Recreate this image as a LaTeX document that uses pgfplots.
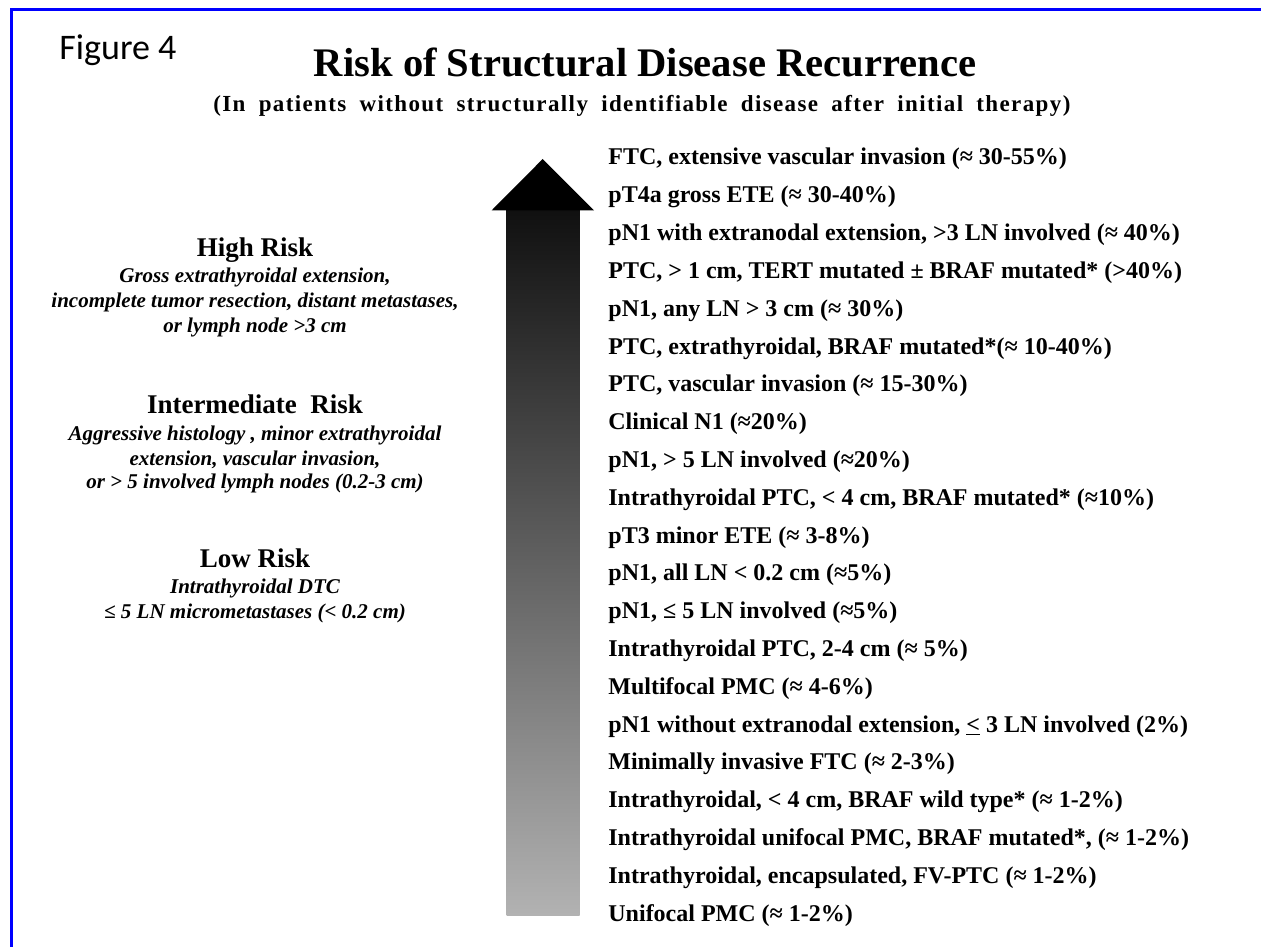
\documentclass[border=0pt]{standalone}
\usepackage{fontspec}
\setmainfont{Liberation Serif}
\newfontfamily\calfont{Carlito}
\usepackage{pgfplots}
\pgfplotsset{compat=1.18}
\definecolor{bord}{RGB}{0,0,255}
\definecolor{shaftbot}{RGB}{178,178,178}
\definecolor{shafttop}{RGB}{16,16,16}
\newcommand{\rowfont}{\fontsize{12pt}{14pt}\selectfont\bfseries}
\newcommand{\riskfont}{\fontsize{13.5pt}{16pt}\selectfont\bfseries}
\newcommand{\descfont}{\fontsize{10.5pt}{12pt}\selectfont\bfseries\itshape}
\begin{document}
\begin{tikzpicture}
\begin{axis}[
  width=630.5pt, height=473pt, scale only axis,
  xmin=0, xmax=1261, ymin=0, ymax=946, y dir=reverse,
  hide axis, clip=true,
]
% frame corners and blue border
\addplot[draw=none] coordinates {(0,0) (1261,946)};
\addplot[bord, line width=1.6pt] coordinates {(11.5,950) (11.5,9.5) (1265,9.5)};
% arrow
\addplot[draw=none, top color=shafttop, bottom color=shaftbot] coordinates {(506.5,209) (579.5,209) (579.5,915) (506.5,915)} -- cycle;
\addplot[fill=black, draw=none] coordinates {(491.5,210.5) (542.7,159) (594,210.5)} -- cycle;

% headings
\node[anchor=base west, inner sep=0] at (axis cs:59,60) {\calfont\fontsize{18pt}{20pt}\selectfont Figure 4};
\node[anchor=base, inner sep=0] at (axis cs:645,77) {\fontsize{20.3pt}{24pt}\selectfont\bfseries Risk of Structural Disease Recurrence};
\node[anchor=base west, inner sep=0] at (axis cs:213,112) {\fontsize{11.5pt}{13pt}\selectfont\bfseries\makebox[428.5pt][s]{\addfontfeature{LetterSpace=6}(In patients without structurally identifiable disease after initial therapy)}};

% left column
\node[anchor=base, inner sep=0] at (axis cs:255,257) {\riskfont High Risk};
\node[anchor=base, inner sep=0] at (axis cs:255,283) {\descfont Gross extrathyroidal extension,};
\node[anchor=base, inner sep=0] at (axis cs:255,307) {\descfont incomplete tumor resection, distant metastases,};
\node[anchor=base, inner sep=0] at (axis cs:255,332) {\descfont or lymph node >3 cm};
\node[anchor=base, inner sep=0] at (axis cs:255,413) {\riskfont Intermediate\ \ Risk};
\node[anchor=base, inner sep=0] at (axis cs:255,440) {\descfont Aggressive histology , minor extrathyroidal};
\node[anchor=base, inner sep=0] at (axis cs:255,465) {\descfont extension, vascular invasion,};
\node[anchor=base, inner sep=0] at (axis cs:255,488) {\descfont or > 5 involved lymph nodes (0.2-3 cm)};
\node[anchor=base, inner sep=0] at (axis cs:255,567) {\riskfont Low Risk};
\node[anchor=base, inner sep=0] at (axis cs:255,593) {\descfont Intrathyroidal DTC};
\node[anchor=base, inner sep=0] at (axis cs:255,618) {\descfont ≤ 5 LN micrometastases (< 0.2 cm)};

% right column rows (baselines 165 + 37.8 i)
\node[anchor=base west, inner sep=0] at (axis cs:608,165.0) {\rowfont FTC, extensive vascular invasion (≈ 30-55\%)};
\node[anchor=base west, inner sep=0] at (axis cs:608,202.8) {\rowfont pT4a gross ETE (≈ 30-40\%)};
\node[anchor=base west, inner sep=0] at (axis cs:608,240.6) {\rowfont pN1 with extranodal extension, >3 LN involved (≈ 40\%)};
\node[anchor=base west, inner sep=0] at (axis cs:608,278.4) {\rowfont PTC, > 1 cm, TERT mutated ± BRAF mutated* (>40\%)};
\node[anchor=base west, inner sep=0] at (axis cs:608,316.2) {\rowfont pN1, any LN > 3 cm (≈ 30\%)};
\node[anchor=base west, inner sep=0] at (axis cs:608,354.0) {\rowfont PTC, extrathyroidal, BRAF mutated*(≈ 10-40\%)};
\node[anchor=base west, inner sep=0] at (axis cs:608,391.8) {\rowfont PTC, vascular invasion (≈ 15-30\%)};
\node[anchor=base west, inner sep=0] at (axis cs:608,429.6) {\rowfont Clinical N1 (≈20\%)};
\node[anchor=base west, inner sep=0] at (axis cs:608,467.4) {\rowfont pN1, > 5 LN involved (≈20\%)};
\node[anchor=base west, inner sep=0] at (axis cs:608,505.2) {\rowfont Intrathyroidal PTC, < 4 cm, BRAF mutated* (≈10\%)};
\node[anchor=base west, inner sep=0] at (axis cs:608,543.0) {\rowfont pT3 minor ETE (≈ 3-8\%)};
\node[anchor=base west, inner sep=0] at (axis cs:608,580.8) {\rowfont pN1, all LN < 0.2 cm (≈5\%)};
\node[anchor=base west, inner sep=0] at (axis cs:608,618.6) {\rowfont pN1, ≤ 5 LN involved (≈5\%)};
\node[anchor=base west, inner sep=0] at (axis cs:608,656.4) {\rowfont Intrathyroidal PTC, 2-4 cm (≈ 5\%)};
\node[anchor=base west, inner sep=0] at (axis cs:608,694.2) {\rowfont Multifocal PMC (≈ 4-6\%)};
\node[anchor=base west, inner sep=0] at (axis cs:608,732.0) {\rowfont pN1 without extranodal extension, \underline{<} 3 LN involved (2\%)};
\node[anchor=base west, inner sep=0] at (axis cs:608,769.8) {\rowfont Minimally invasive FTC (≈ 2-3\%)};
\node[anchor=base west, inner sep=0] at (axis cs:608,807.6) {\rowfont Intrathyroidal, < 4 cm, BRAF wild type* (≈ 1-2\%)};
\node[anchor=base west, inner sep=0] at (axis cs:608,845.4) {\rowfont Intrathyroidal unifocal PMC, BRAF mutated*, (≈ 1-2\%)};
\node[anchor=base west, inner sep=0] at (axis cs:608,883.2) {\rowfont Intrathyroidal, encapsulated, FV-PTC (≈ 1-2\%)};
\node[anchor=base west, inner sep=0] at (axis cs:608,921.0) {\rowfont Unifocal PMC (≈ 1-2\%)};
\end{axis}
\end{tikzpicture}
\end{document}
